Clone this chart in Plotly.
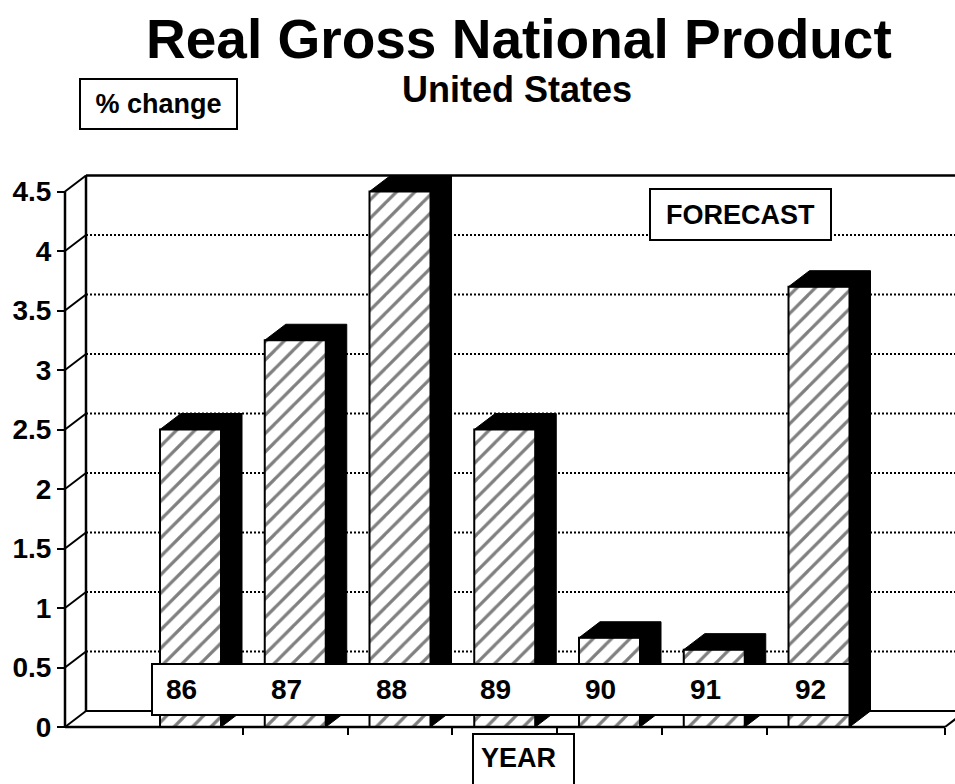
import plotly.graph_objects as go

# ---------------- data ----------------
years = ["86", "87", "88", "89", "90", "91", "92"]
growth = [2.5, 3.25, 4.5, 2.5, 0.75, 0.65, 3.7]
y_ticks = [0, 0.5, 1, 1.5, 2, 2.5, 3, 3.5, 4, 4.5]
y_tick_text = ["0", "0.5", "1", "1.5", "2", "2.5", "3", "3.5", "4", "4.5"]
grid_vals = [0.5, 1, 1.5, 2, 2.5, 3, 3.5, 4]

title_text = "Real Gross National Product"
subtitle_text = "United States"
unit_text = "% change"
forecast_text = "FORECAST"
x_title_text = "YEAR"

# ---------------- geometry ----------------
W, H = 955, 784
PX0, PXU = 190.5, 104.75     # pixel of category 0, pixels per category
PY0, PYU = 727.0, 119.0      # pixel of value 0, pixels per unit
x_range = [(0 - PX0) / PXU, (W - PX0) / PXU]
y_range = [-(H - PY0) / PYU, PY0 / PYU]

X0 = (65 - PX0) / PXU        # front-left corner
X_END = (945 - PX0) / PXU    # front-right end of floor
DX = 21 / PXU                # depth offset (x)
DY = 16 / PYU                # depth offset (y)
BAR_W = 61 / PXU
VMAX = y_ticks[-1]

FONT = "Liberation Sans, Arial, Helvetica, sans-serif"
BLK = "black"

cats = list(range(len(years)))

fig = go.Figure()

# front faces (hatched)
fig.add_trace(go.Bar(
    x=cats, y=growth, width=BAR_W,
    marker=dict(color="white",
                line=dict(color=BLK, width=2),
                pattern=dict(shape="/", fgcolor=BLK, bgcolor="white",
                             size=13, solidity=0.25)),
    hoverinfo="skip", showlegend=False,
))

# black top + side faces
px_, py_ = [], []
for i, v in zip(cats, growth):
    xl, xr = i - BAR_W / 2, i + BAR_W / 2
    px_ += [xl, xl + DX, xr + DX, xr + DX, xr, xr, xl, None]
    py_ += [v, v + DY, v + DY, DY, 0, v, v, None]
fig.add_trace(go.Scatter(
    x=px_, y=py_, mode="lines", fill="toself", fillcolor=BLK,
    line=dict(color=BLK, width=1), hoverinfo="skip", showlegend=False,
))

shapes = []
# back-wall dotted gridlines
for v in grid_vals:
    shapes.append(dict(type="line", xref="x", yref="y", layer="below",
                       x0=X0 + DX, x1=x_range[1], y0=v + DY, y1=v + DY,
                       line=dict(color=BLK, width=2, dash="2px,2px")))
# back wall top
shapes.append(dict(type="line", xref="x", yref="y", layer="below",
                   x0=X0 + DX, x1=x_range[1], y0=VMAX + DY, y1=VMAX + DY,
                   line=dict(color=BLK, width=2.5)))
# back wall left edge
shapes.append(dict(type="line", xref="x", yref="y", layer="below",
                   x0=X0 + DX, x1=X0 + DX, y0=DY, y1=VMAX + DY,
                   line=dict(color=BLK, width=2.5)))
# left wall diagonals
for v in y_ticks:
    shapes.append(dict(type="line", xref="x", yref="y", layer="below",
                       x0=X0, x1=X0 + DX, y0=v, y1=v + DY,
                       line=dict(color=BLK, width=2)))
# front vertical axis line
shapes.append(dict(type="line", xref="x", yref="y", layer="below",
                   x0=X0, x1=X0, y0=0, y1=VMAX,
                   line=dict(color=BLK, width=2.5)))
# floor back edge
shapes.append(dict(type="line", xref="x", yref="y", layer="below",
                   x0=X0 + DX, x1=X_END + DX, y0=DY, y1=DY,
                   line=dict(color=BLK, width=2)))
# floor front edge
shapes.append(dict(type="line", xref="x", yref="y", layer="above",
                   x0=X0, x1=X_END, y0=0, y1=0,
                   line=dict(color=BLK, width=2.5)))
# floor right diagonal
shapes.append(dict(type="line", xref="x", yref="y", layer="above",
                   x0=X_END, x1=X_END + DX, y0=0, y1=DY,
                   line=dict(color=BLK, width=2)))
# category label band
shapes.append(dict(type="rect", xref="x", yref="y", layer="above",
                   x0=cats[0] - BAR_W / 2 - 8 / PXU, x1=cats[-1] + BAR_W / 2,
                   y0=12 / PYU, y1=63 / PYU,
                   fillcolor="white", line=dict(color=BLK, width=2)))
# YEAR box
shapes.append(dict(type="rect", xref="paper", yref="paper", layer="above",
                   x0=473 / W, x1=574 / W, y0=-0.05, y1=(H - 734) / H,
                   fillcolor="white", line=dict(color=BLK, width=2)))

annotations = []
for i, yr in zip(cats, years):
    annotations.append(dict(x=i, y=(PY0 - 689) / PYU, xref="x", yref="y",
                            text=yr, showarrow=False, xshift=-9,
                            font=dict(family=FONT, size=28, color=BLK, weight="bold")))

annotations += [
    dict(x=519 / W, y=(H - 39) / H, xref="paper", yref="paper", text=title_text,
         showarrow=False, xanchor="center", yanchor="middle",
         font=dict(family=FONT, size=55, color=BLK, weight="bold")),
    dict(x=517 / W, y=(H - 90) / H, xref="paper", yref="paper", text=subtitle_text,
         showarrow=False, xanchor="center", yanchor="middle",
         font=dict(family=FONT, size=36, color=BLK, weight="bold")),
    dict(x=158.5 / W, y=(H - 104) / H, xref="paper", yref="paper", text=unit_text,
         showarrow=False, xanchor="center", yanchor="middle",
         width=155, height=48, borderpad=0, borderwidth=2, bordercolor=BLK,
         bgcolor="white",
         font=dict(family=FONT, size=27, color=BLK, weight="bold")),
    dict(x=740.5 / W, y=(H - 214.5) / H, xref="paper", yref="paper", text=forecast_text,
         showarrow=False, xanchor="center", yanchor="middle",
         width=179, height=49, borderpad=0, borderwidth=2, bordercolor=BLK,
         bgcolor="white",
         font=dict(family=FONT, size=27, color=BLK, weight="bold")),
    dict(x=518.5 / W, y=(H - 758) / H, xref="paper", yref="paper", text=x_title_text,
         showarrow=False, xanchor="center", yanchor="middle",
         font=dict(family=FONT, size=27, color=BLK, weight="bold")),
]

fig.update_layout(
    width=W, height=H,
    margin=dict(l=0, r=0, t=0, b=0, pad=0),
    paper_bgcolor="white", plot_bgcolor="white",
    showlegend=False,
    shapes=shapes, annotations=annotations,
    xaxis=dict(range=x_range, showgrid=False, zeroline=False, showline=False,
               tickvals=[c + 0.5 for c in cats[:-1]] + [X_END],
               ticks="outside", ticklen=7, tickwidth=2, tickcolor=BLK,
               showticklabels=False, anchor="free", position=(H - PY0) / H,
               automargin=False, fixedrange=True),
    yaxis=dict(range=y_range, showgrid=False, zeroline=False, showline=False,
               tickvals=y_ticks, ticktext=y_tick_text,
               ticks="outside", ticklen=8, tickwidth=2, tickcolor=BLK,
               tickfont=dict(family=FONT, size=28, color=BLK, weight="bold"),
               anchor="free", position=65 / W, automargin=False, fixedrange=True),
)

fig.write_html("out.html")
